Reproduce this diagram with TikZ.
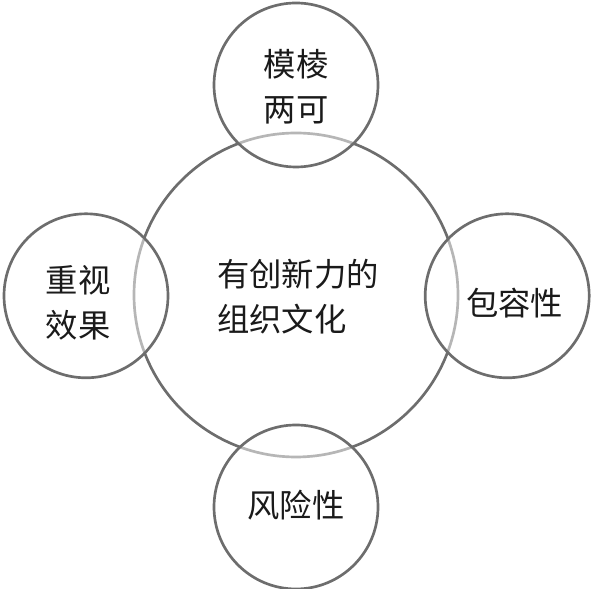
\documentclass[tikz,border=0pt]{standalone}
\usepackage{fontspec}
\newfontfamily\cjk{Noto Sans CJK SC}
\usetikzlibrary{positioning}
\definecolor{ringgrey}{HTML}{6D6D6D}
\definecolor{inkblack}{HTML}{1A1A1A}

\begin{document}
\begin{tikzpicture}[
    every node/.style={font=\cjk\fontsize{23}{32}\selectfont, text=inkblack},
    bigring/.style={circle, draw=ringgrey, line width=1.9pt, minimum size=8.1cm, inner sep=0pt},
    smallring/.style={circle, draw=ringgrey, line width=1.9pt, minimum size=4.1cm, inner sep=0pt,
        fill=white, fill opacity=0.5},
    ringtext/.style={align=left, inner sep=0pt},
]
\useasboundingbox (0,0) rectangle (14.775,14.725);

% Central circle
\node[bigring] (core) at (7.4,7.35) {};
\node[ringtext] (coretext) at (7.45,7.3) {有创新力的\\组织文化};

% Surrounding circles
\node[smallring] (top) at (7.4,12.6) {};
\node[smallring] (left) at (2.15,7.33) {};
\node[smallring] (right) at (12.68,7.33) {};
\node[smallring] (bottom) at (7.4,2.05) {};

% Labels
\node[ringtext] (toptext) at (7.4,12.55) {模棱\\两可};
\node[ringtext] (lefttext) at (1.95,7.15) {重视\\效果};
\node[ringtext] (righttext) at (12.87,7.15) {包容性};
\node[ringtext] (bottomtext) at (7.4,2.1) {风险性};

\end{tikzpicture}
\end{document}
